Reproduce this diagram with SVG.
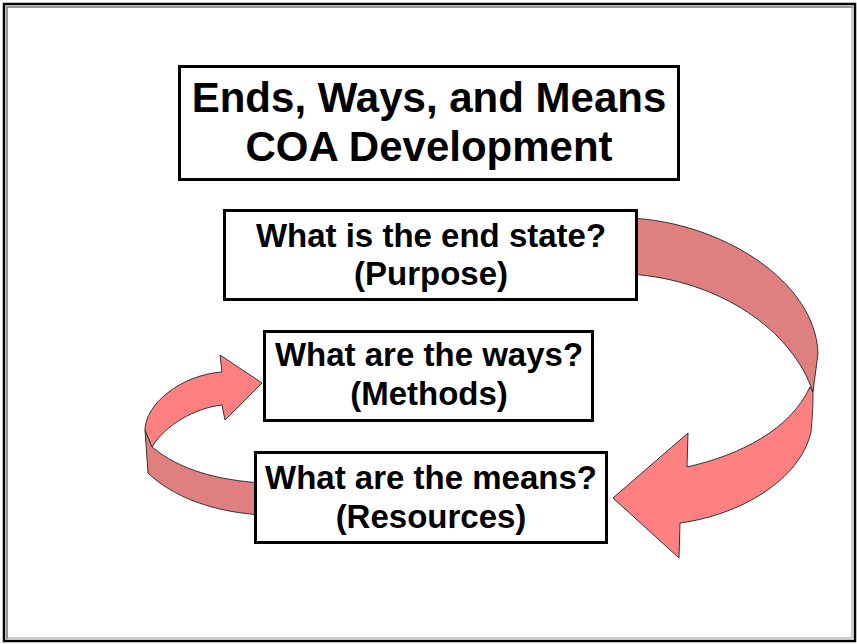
<svg xmlns="http://www.w3.org/2000/svg" width="857" height="644" viewBox="0 0 857 644">
<style>
.box{fill:#fff;stroke:#000;stroke-width:3}
.t{font-family:"Liberation Sans",Arial,sans-serif;font-weight:bold;fill:#000;text-anchor:middle}
.tt{font-size:42px}
.bt{font-size:33px}
.dark{fill:#E07F7F;stroke:#333;stroke-width:1}
.light{fill:#FF8080;stroke:#333;stroke-width:1}
</style>
<rect x="0" y="0" width="857" height="644" fill="#fff"/>
<rect x="4" y="4" width="851" height="637" fill="none" stroke="#000" stroke-width="2.5"/>
<path d="M7,639 V7 H853" fill="none" stroke="#777" stroke-width="1.5"/>
<path d="M852,7 V638 H7" fill="none" stroke="#999" stroke-width="1"/>
<g id="connectors">
<g id="arrow-end-to-means">
<path class="dark" d="M630,218 C720,222 815,280 818,353 L813,392 C792,330 720,280 630,274 Z"/>
<path class="light" d="M810,387 L813,392 C813,410 812,420 811,432 C800,480 740,515 680,523 L679,558 L613,498 L688,433 L687,467 C740,455 790,430 810,387 Z"/>
</g>
<g id="arrow-means-to-ways">
<path class="dark" d="M145,430 L148,473 C173,497 213,512 262,515 L262,483 C217,480 180,470 152,447 Z"/>
<path class="light" d="M145,430 C145,405 180,375 222,372 L220,355 L262,383 L225,420 L222,405 C195,408 165,425 152,447 Z"/>
</g>
</g>
<g id="title">
<rect class="box" x="179.5" y="66.5" width="499" height="113"/>
<text class="t tt" x="429" y="112">Ends, Ways, and Means</text>
<text class="t tt" x="429" y="161">COA Development</text>
</g>
<g id="node-end">
<rect class="box" x="224.5" y="210.5" width="412" height="89"/>
<text class="t bt" x="431" y="247">What is the end state?</text>
<text class="t bt" x="431" y="285">(Purpose)</text>
</g>
<g id="node-ways">
<rect class="box" x="264.5" y="331.5" width="328" height="89"/>
<text class="t bt" x="429" y="366">What are the ways?</text>
<text class="t bt" x="429" y="405">(Methods)</text>
</g>
<g id="node-means">
<rect class="box" x="255.5" y="452.5" width="351" height="90"/>
<text class="t bt" x="431" y="489">What are the means?</text>
<text class="t bt" x="431" y="528">(Resources)</text>
</g>
</svg>
